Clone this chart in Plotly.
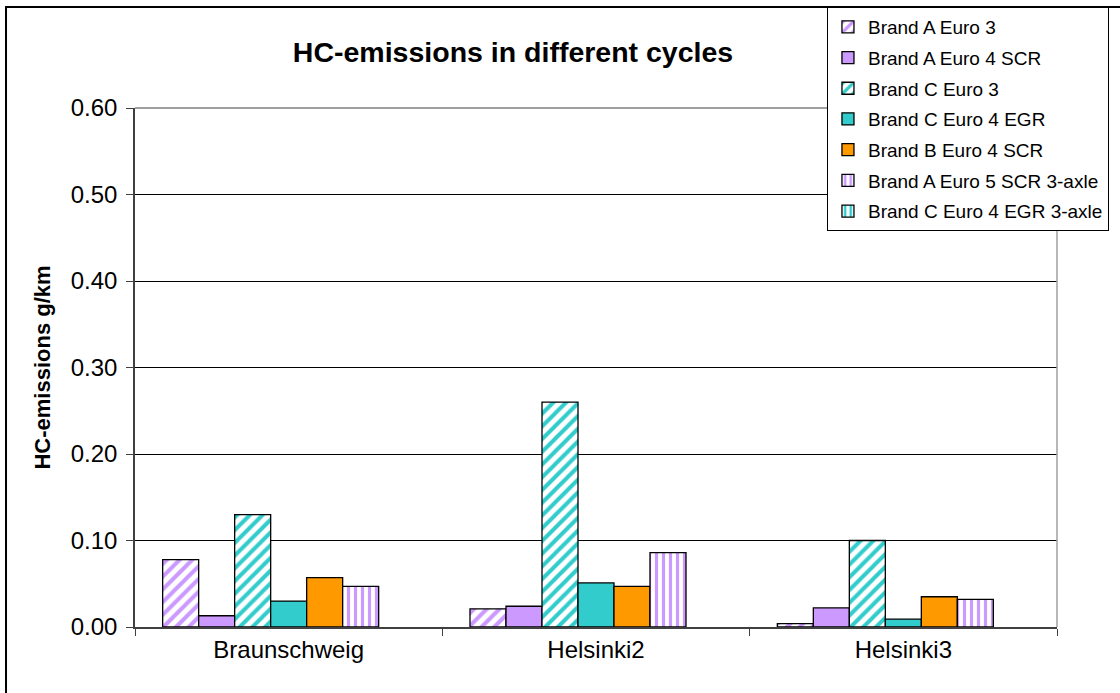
import plotly.graph_objects as go

# Driving cycles on the category axis
cycles = ["Braunschweig", "Helsinki2", "Helsinki3"]

# HC emissions (g/km) per vehicle, one list per series
brand_a_euro3 = [0.078, 0.021, 0.004]
brand_a_euro4_scr = [0.013, 0.024, 0.022]
brand_c_euro3 = [0.130, 0.260, 0.100]
brand_c_euro4_egr = [0.030, 0.051, 0.009]
brand_b_euro4_scr = [0.057, 0.047, 0.035]
brand_a_euro5_scr_3axle = [0.047, 0.086, 0.032]
brand_c_euro4_egr_3axle = [None, None, None]

y_ticks = [0.0, 0.1, 0.2, 0.3, 0.4, 0.5, 0.6]

LAV = "#CC99FF"
TEAL = "#33CCCC"
ORANGE = "#FF9900"

series = [
    ("Brand A Euro 3", brand_a_euro3, LAV, "/"),
    ("Brand A Euro 4 SCR", brand_a_euro4_scr, LAV, ""),
    ("Brand C Euro 3", brand_c_euro3, TEAL, "/"),
    ("Brand C Euro 4 EGR", brand_c_euro4_egr, TEAL, ""),
    ("Brand B Euro 4 SCR", brand_b_euro4_scr, ORANGE, ""),
    ("Brand A Euro 5 SCR 3-axle", brand_a_euro5_scr_3axle, LAV, "|"),
    ("Brand C Euro 4 EGR 3-axle", brand_c_euro4_egr_3axle, TEAL, "|"),
]

fig = go.Figure()
for i, (name, vals, color, shape) in enumerate(series):
    if shape:
        marker = dict(
            color="white",
            line=dict(color="black", width=1.3),
            pattern=dict(shape=shape, fgcolor=color, bgcolor="white",
                         size=9 if shape == "/" else 7, solidity=0.45,
                         fillmode="replace"),
        )
    else:
        marker = dict(color=color, line=dict(color="black", width=1.3))
    fig.add_trace(go.Bar(x=cycles, y=vals, name=name, marker=marker,
                         legendgroup=f"g{i}"))

# Outer chart border (left/top edges visible, right/bottom run past the frame)
fig.add_shape(type="rect", xref="paper", yref="paper",
              x0=-0.1399, x1=1.15, y0=-0.25, y1=1.1946,
              line=dict(color="black", width=2), layer="below")

fig.update_layout(
    width=1120, height=693,
    margin=dict(l=135, r=63, t=108, b=66, autoexpand=False),
    paper_bgcolor="white", plot_bgcolor="white",
    font=dict(family="Liberation Sans, Arial, sans-serif", color="black"),
    barmode="group", bargap=0.18, bargroupgap=0,
    title=dict(text="<b>HC-emissions in different cycles</b>",
               x=0.41, xref="paper", xanchor="center",
               y=0.925, yanchor="middle",
               font=dict(size=28.5, color="black")),
    showlegend=True,
    legend=dict(x=0.7505, y=1.1946, xanchor="left", yanchor="top",
                bgcolor="white", bordercolor="black", borderwidth=1,
                font=dict(size=19, color="black"),
                tracegroupgap=3, itemwidth=30),
    xaxis=dict(showline=True, linecolor="#404040", linewidth=1.5,
               mirror=False, ticks="outside", ticklen=7, tickcolor="#404040",
               tickson="boundaries", tickfont=dict(size=24),
               showgrid=False),
    yaxis=dict(range=[0, 0.6], tickvals=y_ticks, tickformat=".2f",
               showline=True, linecolor="#404040", linewidth=1.5,
               ticks="outside", ticklen=7, tickcolor="#404040",
               tickfont=dict(size=24), ticklabelstandoff=4,
               showgrid=True, gridcolor="black", gridwidth=1,
               title=dict(text="<b>HC-emissions g/km</b>",
                          font=dict(size=22), standoff=14),
               zeroline=False),
)

# Plot area frame: gray top and right edges
fig.add_shape(type="line", xref="paper", yref="paper", x0=0, x1=1, y0=1, y1=1,
              line=dict(color="#808080", width=1.5))
fig.add_shape(type="line", xref="paper", yref="paper", x0=1, x1=1, y0=0, y1=1,
              line=dict(color="#A0A0A0", width=1.5))

fig.write_html("out.html")
